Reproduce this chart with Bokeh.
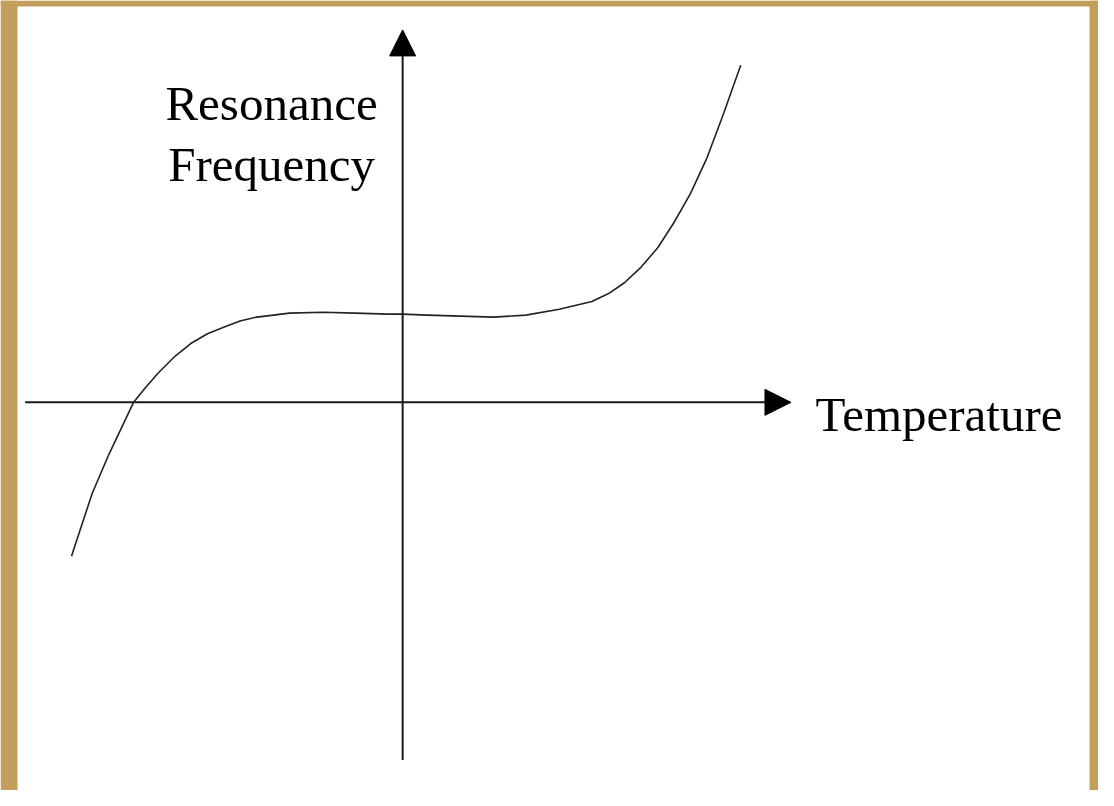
from bokeh.plotting import figure
from bokeh.models import Range1d, Arrow, NormalHead, ColumnDataSource, BoxAnnotation
from bokeh.core.properties import value
from bokeh.embed import file_html
from bokeh.resources import INLINE

# Curve (relative units: origin at the axes crossing)
temperature = [-336, -315, -298, -273, -261, -248, -231, -215, -198, -181, -165,
               -148, -131, -115, -81, -48, -15, 0, 25, 59, 92, 125, 159, 192,
               209, 225, 242, 259, 275, 292, 309, 325, 343]
frequency = [-157, -93, -53, 0, 15, 30, 47, 60, 70, 77, 83,
             87, 89, 91, 92, 91, 90, 90, 89, 88, 87, 89, 95, 103,
             111, 122, 138, 158, 183, 213, 250, 293, 344]

y_label_lines = ["Resonance", "Frequency"]
x_label = "Temperature"

GOLD = "#C29F5A"

p = figure(width=1098, height=790, output_backend="svg", toolbar_location=None,
           x_range=Range1d(-408, 706), y_range=Range1d(-396, 410),
           min_border=0, border_fill_color="white", background_fill_color="white")
p.axis.visible = False
p.grid.visible = False
p.outline_line_color = None

# gold frame of the picture
for kw in (dict(left=0, right=17, bottom=0, top=790),
           dict(left=1089, right=1098, bottom=0, top=790),
           dict(left=0, right=1098, bottom=784, top=790)):
    p.add_layout(BoxAnnotation(left_units="screen", right_units="screen",
                               top_units="screen", bottom_units="screen",
                               fill_color=GOLD, fill_alpha=1, line_color=None,
                               level="underlay", **kw))

# axes with arrow heads
p.add_layout(Arrow(end=NormalHead(size=26, fill_color="black", line_color="black", line_width=1),
                   x_start=-383, y_start=0, x_end=394, y_end=0,
                   line_color="#1a1a1a", line_width=2))
p.add_layout(Arrow(end=NormalHead(size=26, fill_color="black", line_color="black", line_width=1),
                   x_start=0, y_start=-365, x_end=0, y_end=380,
                   line_color="#1a1a1a", line_width=2))

# curve
p.line(temperature, frequency, line_color="#222222", line_width=1.6,
       line_join="round")

# labels
src = ColumnDataSource(dict(x=[-133, -133], y=[305, 243], t=y_label_lines))
p.text(x="x", y="y", text="t", source=src, text_font=value("Liberation Serif"),
       text_font_size="49px", text_align="center", text_baseline="alphabetic",
       text_color="black")
p.text(x=[419], y=[-12], text=[x_label], text_font=value("Liberation Serif"),
       text_font_size="49px", text_align="left", text_baseline="alphabetic",
       text_color="black")

open("out.html", "w").write(file_html(p, INLINE))
